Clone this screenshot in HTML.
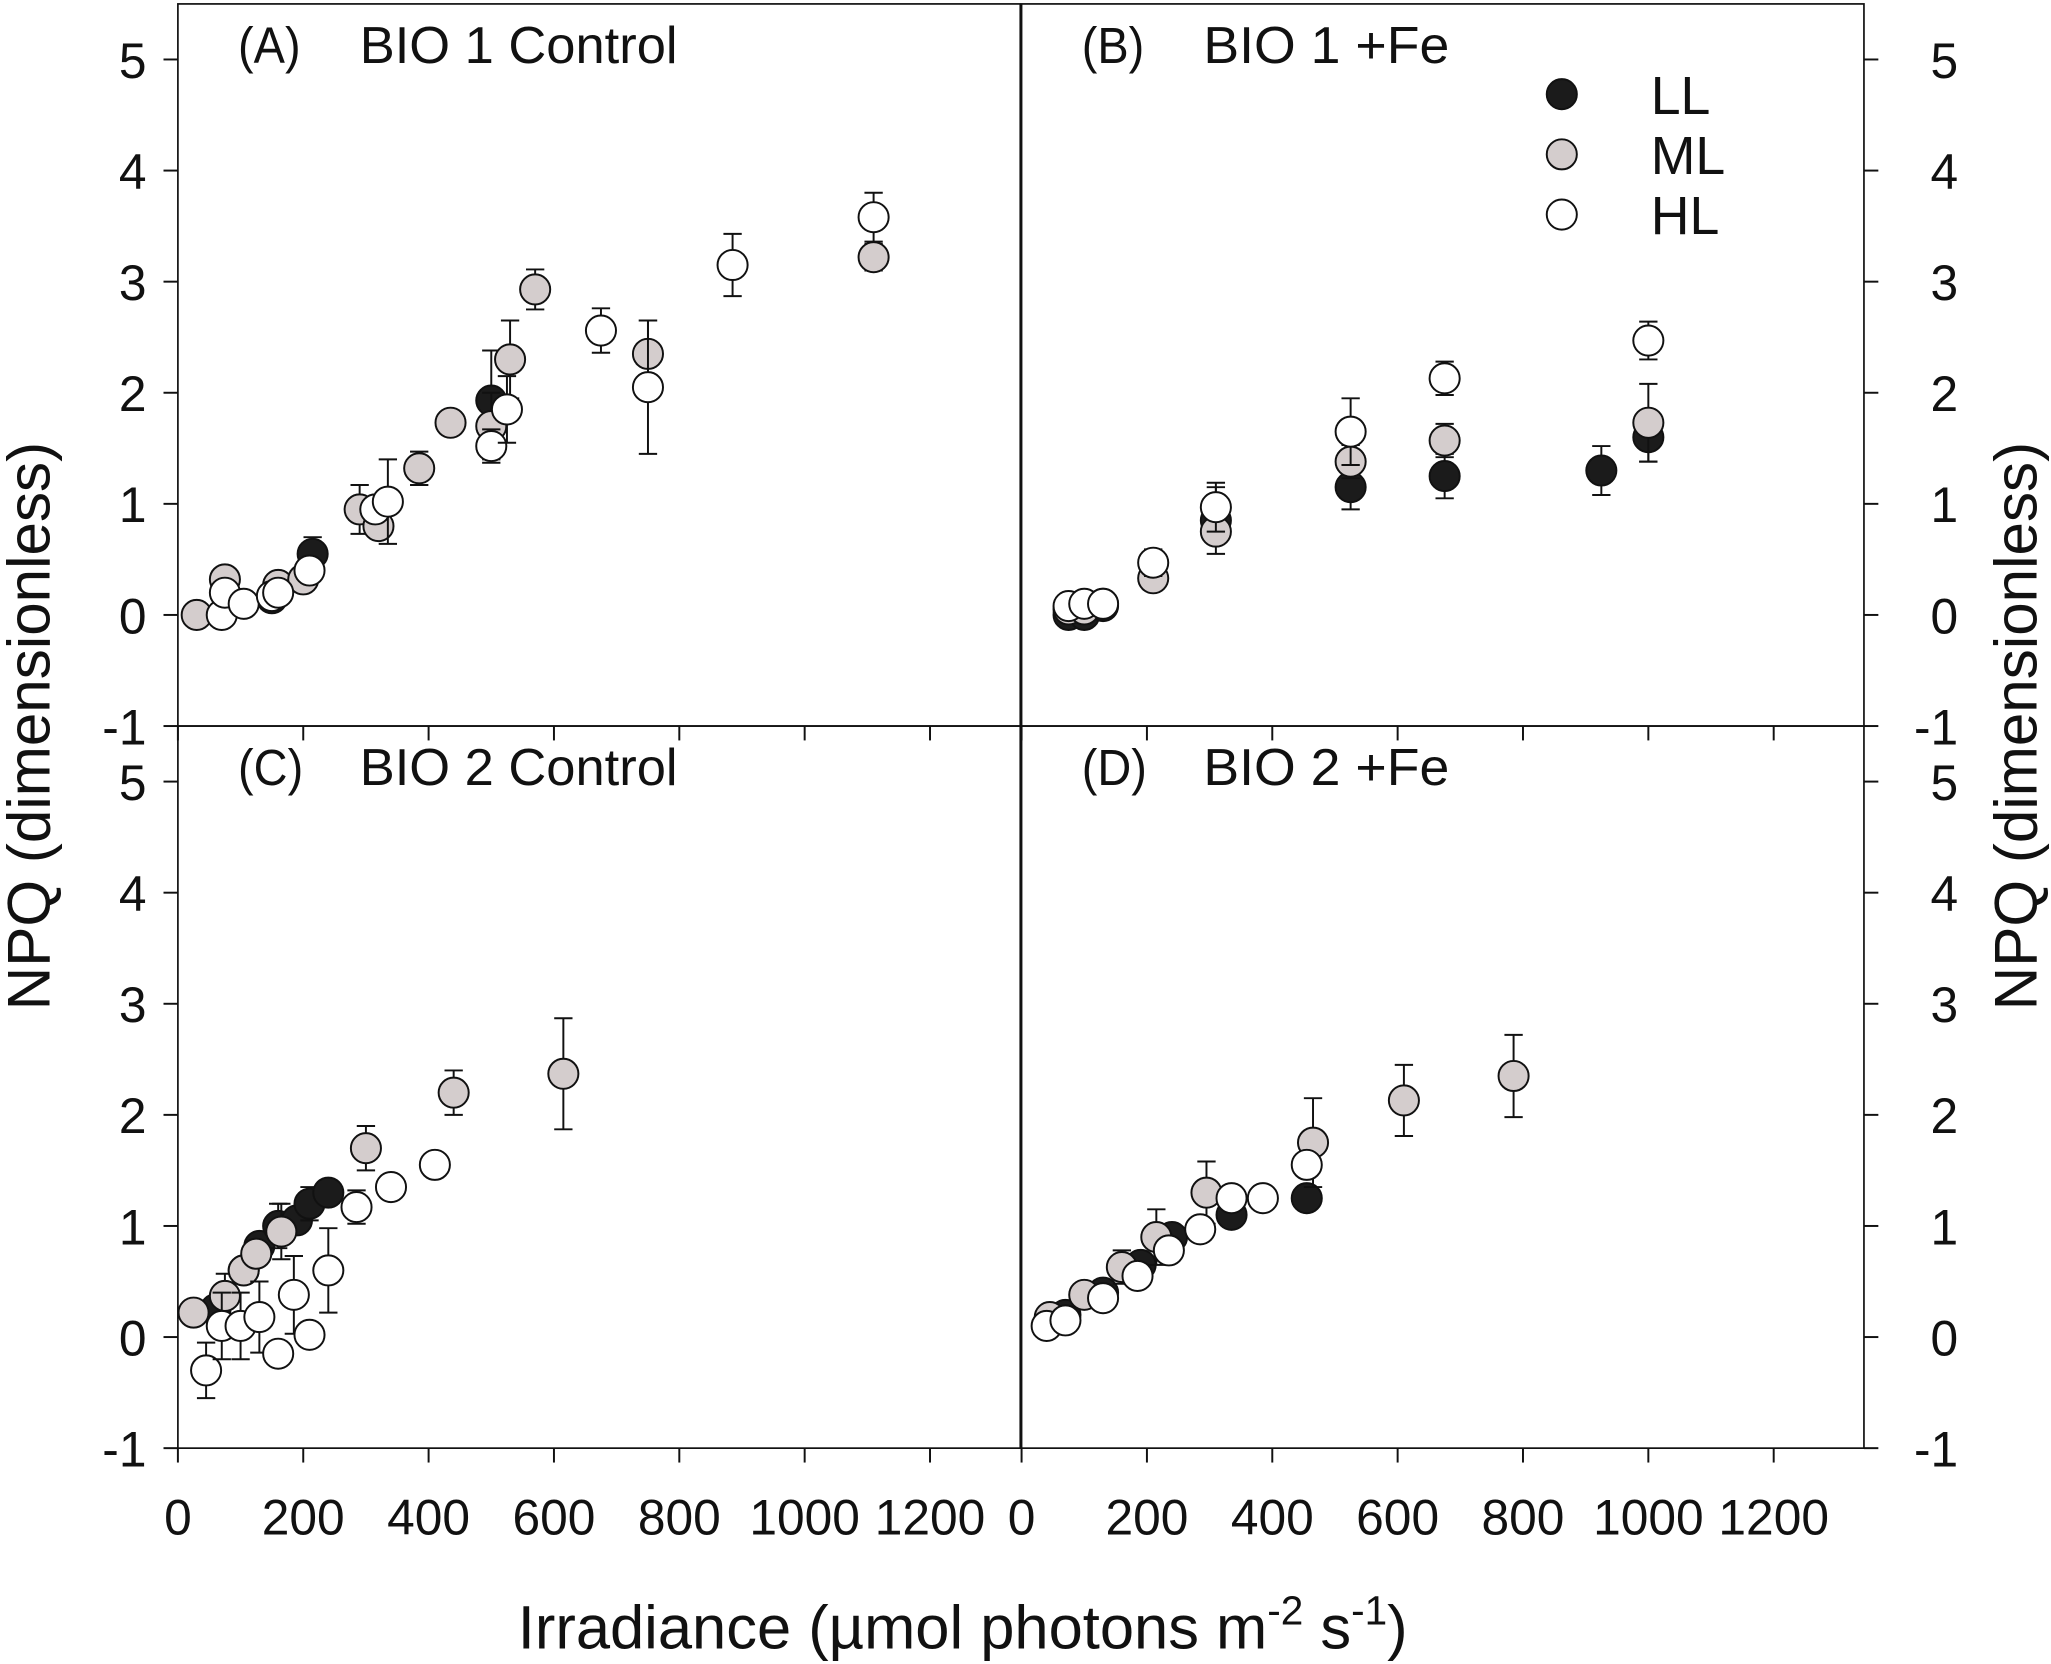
<!DOCTYPE html>
<html><head><meta charset="utf-8"><style>
html,body{margin:0;padding:0;background:#fff}
svg{display:block}
text{font-family:"Liberation Sans",sans-serif;fill:#111}
</style></head><body>
<svg id="chart" width="2051" height="1664" viewBox="0 0 1568 1272" preserveAspectRatio="none" xmlns="http://www.w3.org/2000/svg"></svg>
<script>
// x, y, error triples per series per panel
const panelTags = ["(A)", "(B)", "(C)", "(D)"];
const panelTitles = ["BIO 1 Control", "BIO 1 +Fe", "BIO 2 Control", "BIO 2 +Fe"];
const xTicks = [0, 200, 400, 600, 800, 1000, 1200];
const yTicks = [-1, 0, 1, 2, 3, 4, 5];
const seriesNames = ["LL", "ML", "HL"];
const A_LL = [[150,0.15,0],[215,0.55,0.15],[500,1.93,0.45]];
const A_ML = [[30,0,0],[75,0.32,0],[160,0.27,0],[200,0.32,0],[290,0.95,0.22],[320,0.8,0],[385,1.32,0.15],[435,1.73,0],[500,1.7,0.3],[530,2.3,0.35],[570,2.93,0.18],[750,2.35,0.3],[1110,3.22,0.12]];
const A_HL = [[70,0,0],[75,0.2,0],[105,0.1,0],[150,0.17,0],[160,0.2,0],[210,0.4,0],[315,0.95,0],[335,1.02,0.38],[500,1.52,0.15],[525,1.85,0.3],[675,2.56,0.2],[750,2.05,0.6],[885,3.15,0.28],[1110,3.58,0.22]];
const B_LL = [[75,0,0],[100,0,0],[130,0.08,0],[310,0.85,0.3],[525,1.15,0.2],[675,1.25,0.2],[925,1.3,0.22],[1000,1.6,0.22]];
const B_ML = [[75,0.05,0],[100,0.05,0],[130,0.1,0],[210,0.33,0],[310,0.75,0],[525,1.38,0.15],[675,1.57,0.15],[1000,1.73,0.35]];
const B_HL = [[75,0.08,0],[100,0.1,0],[130,0.1,0],[210,0.47,0.12],[310,0.97,0.22],[525,1.65,0.3],[675,2.13,0.15],[1000,2.47,0.17]];
const C_LL = [[60,0.25,0],[105,0.6,0],[130,0.82,0],[160,1.0,0.2],[190,1.05,0],[210,1.2,0.15],[240,1.3,0.1]];
const C_ML = [[25,0.22,0],[75,0.37,0.2],[105,0.6,0],[125,0.75,0],[165,0.95,0.25],[300,1.7,0.2],[440,2.2,0.2],[615,2.37,0.5]];
const C_HL = [[45,-0.3,0.25],[70,0.1,0.3],[100,0.1,0.3],[130,0.18,0.32],[160,-0.15,0],[185,0.38,0.35],[210,0.02,0],[240,0.6,0.38],[285,1.17,0.15],[340,1.35,0],[410,1.55,0]];
const D_LL = [[70,0.2,0],[130,0.4,0],[190,0.65,0],[240,0.9,0],[335,1.1,0],[455,1.25,0]];
const D_ML = [[45,0.18,0],[100,0.38,0],[160,0.63,0.15],[215,0.9,0.25],[295,1.3,0.28],[465,1.75,0.4],[610,2.13,0.32],[785,2.35,0.37]];
const D_HL = [[40,0.1,0],[70,0.15,0],[130,0.35,0],[185,0.55,0],[235,0.78,0],[285,0.97,0],[335,1.25,0],[385,1.25,0],[455,1.55,0]];

const svg = document.getElementById('chart');
const NS = 'http://www.w3.org/2000/svg';
function mk(tag, attrs, parent) {
  const e = document.createElementNS(NS, tag);
  for (const k in attrs) e.setAttribute(k, attrs[k]);
  (parent || svg).appendChild(e);
  return e;
}
const fills = {LL:'#1b1b1b', ML:'#d4cdcd', HL:'#ffffff'};
const panels = [
  {x0:136, y0:3, data:[A_LL,A_ML,A_HL]},
  {x0:781, y0:3, data:[B_LL,B_ML,B_HL]},
  {x0:136, y0:555, data:[C_LL,C_ML,C_HL]},
  {x0:781, y0:555, data:[D_LL,D_ML,D_HL]}
];
const PW = 644, PH = 552, XMAX = 1344, YMIN = -1, YMAX = 5.5;
panels.forEach((p, i) => {
  const sx = v => p.x0 + v / XMAX * PW;
  const sy = v => p.y0 + PH - (v - YMIN) / (YMAX - YMIN) * PH;
  const g = mk('g', {});
  
  
  const r = mk('rect', {x:p.x0, y:p.y0, width:PW, height:PH, fill:'none', stroke:'#111', 'stroke-width':1.3}, g);
  
  
  const tg = mk('text', {x:p.x0 + 46, y:p.y0 + 45, 'font-size':39, transform:`translate(${p.x0+46},0) scale(0.92,1) translate(${-(p.x0+46)},0)`}, g);
  tg.textContent = panelTags[i];
  
  
  const t = mk('text', {x:p.x0 + 139, y:p.y0 + 45, 'font-size':40, textLength: i % 2 === 0 ? 243 : 188, lengthAdjust:'spacingAndGlyphs'}, g);
  t.textContent = panelTitles[i];
  
  
  // y ticks
  yTicks.forEach(v => {
    if (i % 2 === 0) {
      mk('line', {x1:p.x0 - 11, x2:p.x0, y1:sy(v), y2:sy(v), stroke:'#111', 'stroke-width':1.5}, g);
      const tl = mk('text', {x:p.x0 - 24, y:sy(v) + 14, 'font-size':38, 'text-anchor':'end'}, g);
      tl.textContent = v;
      
      
    } else {
      mk('line', {x1:p.x0 + PW, x2:p.x0 + PW + 11, y1:sy(v), y2:sy(v), stroke:'#111', 'stroke-width':1.5}, g);
      const tl = mk('text', {x:p.x0 + PW + 72, y:sy(v) + 14, 'font-size':38, 'text-anchor':'end'}, g);
      tl.textContent = v;
      
      
    }
  });
  // x ticks
  xTicks.forEach(v => {
    mk('line', {x1:sx(v), x2:sx(v), y1:p.y0 + PH, y2:p.y0 + PH + 11, stroke:'#111', 'stroke-width':1.5}, g);
    if (i >= 2) {
      const tl = mk('text', {x:sx(v), y:p.y0 + PH + 66, 'font-size':38, 'text-anchor':'middle'}, g);
      tl.textContent = v;
      
      
    }
  });
  // series
  p.data.forEach((arr, si) => {
    const name = seriesNames[si];
    arr.forEach(d => {
      const cx = sx(d[0]), cy = sy(d[1]);
      if (d[2] > 0) {
        const e1 = sy(d[1] + d[2]), e2 = sy(d[1] - d[2]);
        const eb = mk('path', {d:`M${cx},${e1}V${e2}M${cx-7},${e1}H${cx+7}M${cx-7},${e2}H${cx+7}`, stroke:'#111', 'stroke-width':1.5, fill:'none'}, g);
        
        
      }
      const c = mk('circle', {cx:cx, cy:cy, r:11.5, fill:fills[name], stroke:'#111', 'stroke-width':1.5}, g);
      
      
    });
  });
});
// legend
seriesNames.forEach((n, k) => {
  const y = 72 + k * 46;
  const c = mk('circle', {cx:1194, cy:y, r:11.5, fill:fills[n], stroke:'#111', 'stroke-width':1.5});
  
  
  const t = mk('text', {x:1262, y:y + 15, 'font-size':41});
  t.textContent = n;
  
  
});
// axis titles
const yl = mk('text', {x:0, y:0, 'font-size':46, 'text-anchor':'middle', transform:'translate(38,555) rotate(-90)'});
yl.textContent = 'NPQ (dimensionless)';


const yr = mk('text', {x:0, y:0, 'font-size':46, 'text-anchor':'middle', transform:'translate(1557,555) rotate(-90)'});
yr.textContent = 'NPQ (dimensionless)';


const xl = mk('text', {x:736, y:1260, 'font-size':47, 'text-anchor':'middle'});
xl.innerHTML = 'Irradiance (µmol photons m<tspan dy="-18" font-size="31">-2</tspan><tspan dy="18"> s</tspan><tspan dy="-18" font-size="31">-1</tspan><tspan dy="18">)</tspan>';


</script>
</body></html>
